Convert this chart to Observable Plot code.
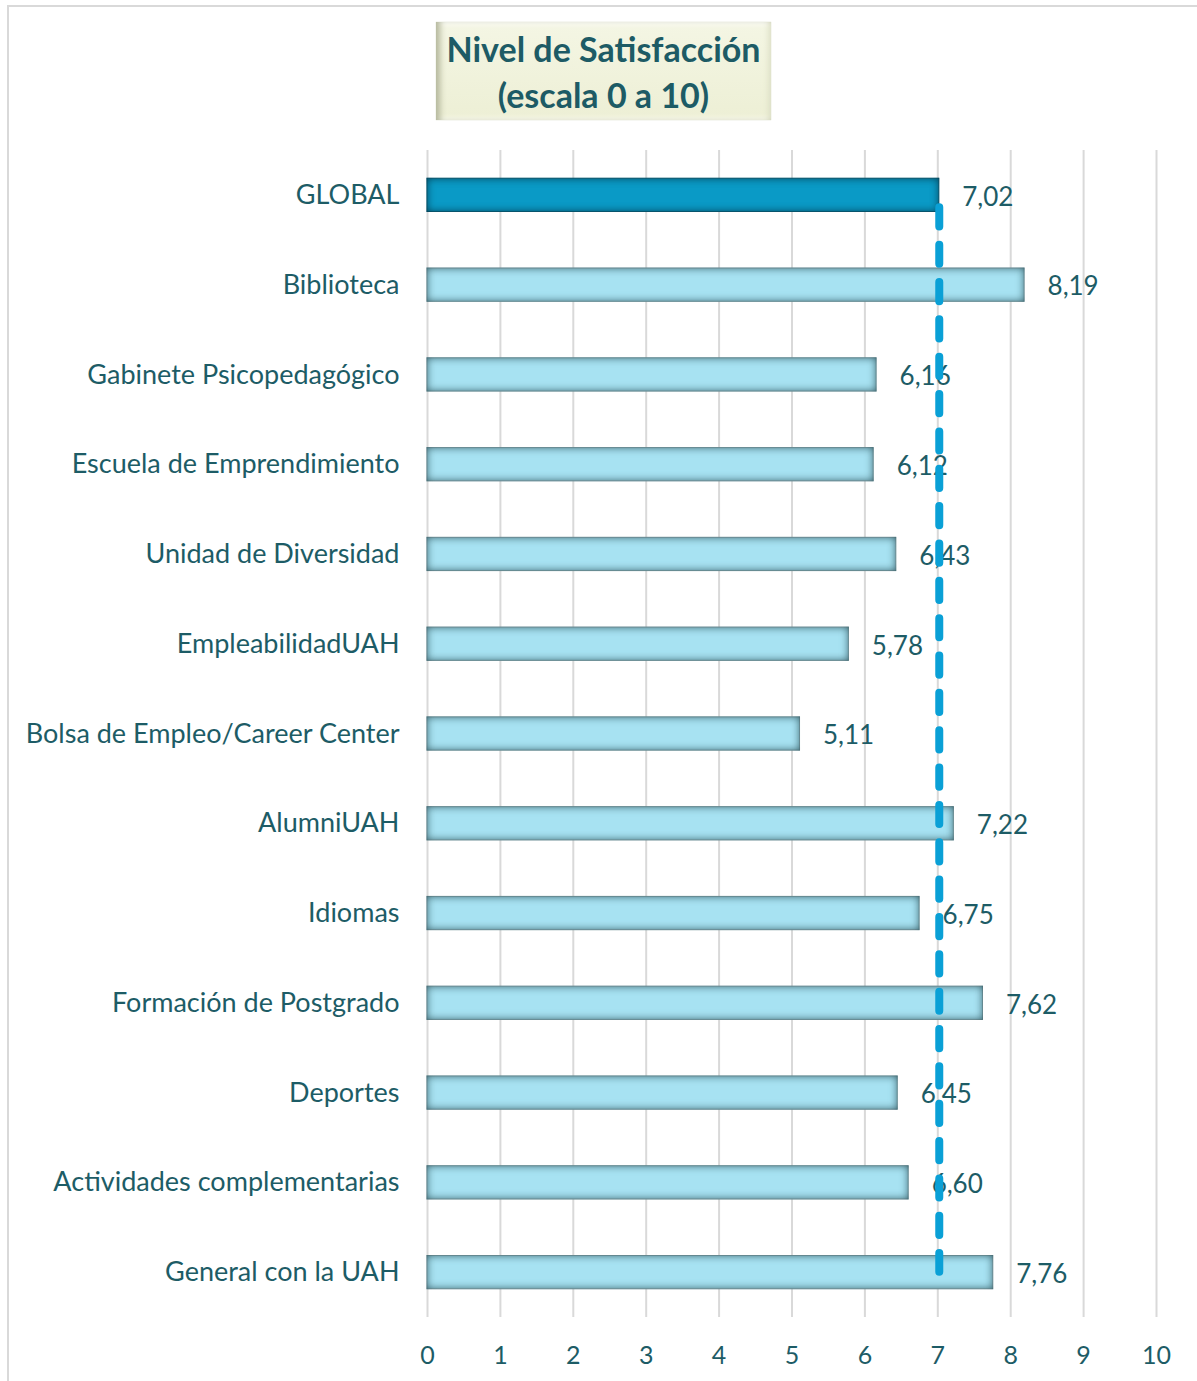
<!DOCTYPE html>
<html><head><meta charset="utf-8">
<script src="https://cdn.jsdelivr.net/npm/d3@7"></script>
<script src="https://cdn.jsdelivr.net/npm/@observablehq/plot@0.6"></script>
<style>
body{margin:0;background:#fff;}
#wrap{position:relative;width:1197px;height:1381px;overflow:hidden;font-family:Lato, sans-serif;}
#frame{position:absolute;left:7px;top:5px;width:1300px;height:1500px;border-left:2px solid #d9d9d9;border-top:2px solid #d9d9d9;}
#chart{position:absolute;left:0;top:0;}
#title{position:absolute;left:436px;top:22px;width:335px;height:98px;box-sizing:border-box;
  background:linear-gradient(#f4f6e4,#edefd5);
  box-shadow: inset 7px 0 6px -3px #b3b69b, inset -5px 0 6px -3px #d9dcc2, inset 0 5px 5px -3px #ffffff, inset 0 -5px 5px -3px #fbfcf3, 0 0 1px #c9ccb3;
  color:#1d5b65;font-weight:bold;font-size:34px;line-height:46px;text-align:center;padding-top:4px;letter-spacing:0px;}
</style></head>
<body>
<div id="wrap">
  <div id="frame"></div>
  <div id="chart"></div>
  <div id="title">Nivel de Satisfacción<br>(escala 0 a 10)</div>
</div>
<script>
const categories = ["GLOBAL","Biblioteca","Gabinete Psicopedagógico","Escuela de Emprendimiento","Unidad de Diversidad","EmpleabilidadUAH","Bolsa de Empleo/Career Center","AlumniUAH","Idiomas","Formación de Postgrado","Deportes","Actividades complementarias","General con la UAH"];
const values = [7.02,8.19,6.16,6.12,6.43,5.78,5.11,7.22,6.75,7.62,6.45,6.60,7.76];
const highlight = "GLOBAL";
const xTicks = [0,1,2,3,4,5,6,7,8,9,10];

const data = categories.map((c,i)=>({category:c, value:values[i]}));
const globalValue = values[categories.indexOf(highlight)];
const fmt = v => d3.format(".2f")(v).replace(".", ",");
const textColor = "#1d5c66";

const chart = Plot.plot({
  width: 1197, height: 1381,
  marginTop: 150, marginBottom: 64, marginLeft: 427, marginRight: 41,
  style: {fontFamily: "Lato, sans-serif", fontSize: "25px", color: textColor, background: "transparent"},
  x: {domain: [0, 10], ticks: xTicks, tickSize: 0, tickPadding: 29, label: null, tickFormat: d => String(d)},
  y: {domain: categories, paddingInner: 0.63, paddingOuter: 0.315, round: false, tickSize: 0, tickPadding: 28, label: null},
  marks: [
    Plot.gridX(xTicks, {stroke: "#d9d9d9", strokeOpacity: 1, strokeWidth: 2}),
    Plot.barX(data, {filter: d => d.category !== highlight, x: "value", y: "category", fill: "#a7e2f2", stroke: "#93b4bb", strokeWidth: 1}),
    Plot.barX(data, {filter: d => d.category === highlight, x: "value", y: "category", fill: "#0a9ac6", stroke: "#0b6a86", strokeWidth: 1}),
    Plot.text(data, {x: "value", y: "category", text: d => fmt(d.value), dx: 23, dy: 2, textAnchor: "start", fill: textColor, fontSize: 26}),
    Plot.ruleX([globalValue], {x: d => d, y1: () => categories[0], y2: () => categories[categories.length - 1],
      stroke: "#0aa0d6", strokeWidth: 8, strokeDasharray: "19.2 18.15", strokeLinecap: "round", insetTop: 29, insetBottom: 17})
  ]
});
const svg = d3.select(chart);
svg.insert("defs", ":first-child").html(`
  <filter id="insetLo" x="-5%" y="-50%" width="110%" height="200%" color-interpolation-filters="sRGB">
    <feFlood flood-color="#2d545d" result="c"/>
    <feComposite in="c" in2="SourceAlpha" operator="out" result="inv"/>
    <feGaussianBlur in="inv" stdDeviation="4" result="blur"/>
    <feComposite in="blur" in2="SourceAlpha" operator="in" result="sh"/>
    <feMerge><feMergeNode in="SourceGraphic"/><feMergeNode in="sh"/></feMerge>
  </filter>
  <filter id="insetHi" x="-5%" y="-50%" width="110%" height="200%" color-interpolation-filters="sRGB">
    <feFlood flood-color="#033a4d" result="c"/>
    <feComposite in="c" in2="SourceAlpha" operator="out" result="inv"/>
    <feGaussianBlur in="inv" stdDeviation="4" result="blur"/>
    <feComposite in="blur" in2="SourceAlpha" operator="in" result="sh"/>
    <feMerge><feMergeNode in="SourceGraphic"/><feMergeNode in="sh"/></feMerge>
  </filter>`);
svg.selectAll('g[aria-label="bar"]').each(function(_, i) {
  d3.select(this).selectAll("rect").attr("filter", i === 0 ? "url(#insetLo)" : "url(#insetHi)");
});
svg.selectAll('g[aria-label="y-axis tick label"] text').attr("font-size", 27);
document.getElementById("chart").appendChild(chart);
</script>
</body></html>
